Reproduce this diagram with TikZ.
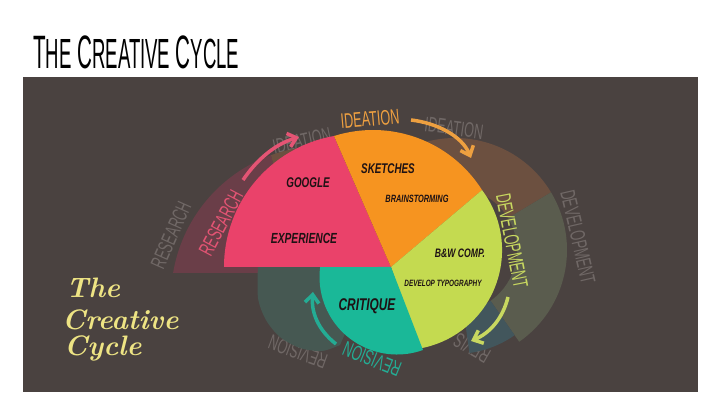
\documentclass[tikz,border=0pt]{standalone}
\usepackage{fontspec}
\usepackage{xcolor}
\usepackage{tikz}
\usetikzlibrary{arrows.meta, calc}
\newfontfamily\headfont[FakeStretch=0.44]{Liberation Sans}
\newfontfamily\ringfont[FakeStretch=0.6]{Liberation Sans}
\newfontfamily\brushfont[FakeStretch=0.7]{Liberation Sans}
\newcommand{\lowcap}[1]{{\fontsize{36}{36}\selectfont #1}}
\definecolor{panelbg}{RGB}{74, 66, 64}
\definecolor{pinkseg}{RGB}{234, 66, 106}
\definecolor{orangeseg}{RGB}{246, 148, 32}
\definecolor{limeseg}{RGB}{196, 218, 80}
\definecolor{tealseg}{RGB}{26, 184, 152}
\definecolor{ghostmaroon}{RGB}{106, 62, 72}
\definecolor{ghostbrown}{RGB}{108, 80, 64}
\definecolor{ghostolive}{RGB}{90, 92, 78}
\definecolor{ghostslate}{RGB}{70, 88, 82}
\definecolor{ghostblue}{RGB}{66, 86, 92}
\definecolor{ghosttext}{RGB}{112, 104, 102}
\definecolor{researchtext}{RGB}{228, 84, 116}
\definecolor{ideationtext}{RGB}{238, 160, 64}
\definecolor{developtext}{RGB}{200, 216, 96}
\definecolor{revisiontext}{RGB}{36, 172, 148}
\definecolor{inkdark}{RGB}{30, 18, 20}
\definecolor{cursivetext}{RGB}{238, 228, 132}

\begin{document}
\begin{tikzpicture}[
    x=0.03cm, y=-0.03cm,
    ringlabel/.style={font=\ringfont\fontsize{18}{18}\selectfont, inner sep=0pt},
    ghostlabel/.style={ringlabel, text=ghosttext},
    itemlabel/.style={font=\brushfont\bfseries\itshape\fontsize{#1}{#1}\selectfont, text=inkdark, inner sep=0pt},
    cursive/.style={font=\bfseries\itshape\fontsize{24}{24}\selectfont, text=cursivetext, inner sep=0pt, anchor=base west},
    cyclearrow/.style={line width=3pt, -{Straight Barb[length=7pt, width=12pt]}}
]
    \useasboundingbox (0,0) rectangle (720,405);
    \fill[white] (0,0) rectangle (720,405);
    \fill[panelbg] (23,77) rectangle (698,392);

    % Title
    \node[font=\headfont\fontsize{40}{40}\selectfont, anchor=base west, inner sep=0pt] (title) at (33,69)
        {T\lowcap{HE} C\lowcap{REATIVE} C\lowcap{YCLE}};

    % Ghost labels
    \node[ghostlabel, rotate=66] (gresearch) at (171,235) {RESEARCH};
    \node[ghostlabel, rotate=12] (gideaL) at (302,141) {IDEATION};
    \node[ghostlabel, rotate=-8] (gideaR) at (454,128) {IDEATION};
    \node[ghostlabel, rotate=-77] (gdevel) at (578,237) {DEVELOPMENT};
    \node[ghostlabel, rotate=160] (grevL) at (298,352) {REVISION};
    \node[ghostlabel, rotate=150] (grevR) at (472,348) {REVIS};

    % Ghost wheel, left
    \coordinate (lghost) at (323,298);
    \coordinate (lhub) at (300,273);
    \fill[ghostmaroon] (lhub) -- ($(lghost)+(189.5:152)$) arc[start angle=189.5, end angle=250, radius=152] -- cycle;
    \fill[ghostbrown] (lhub) -- ($(lghost)+(250:152)$) arc[start angle=250, end angle=272, radius=152] -- cycle;
    \fill[ghostslate] plot[smooth] coordinates {(258,265) (258,298) (266,320) (280,337) (300,348) (322,351) (340,345)}
        -- (360,300) -- (360,265) -- cycle;

    % Ghost wheel, right
    \coordinate (ghub) at (455,250);
    \fill[ghostbrown] ($(ghub)+(255:112)$) arc[start angle=255, end angle=329, radius=112]
        -- ($(ghub)+(329:62)$) arc[start angle=329, end angle=255, radius=62] -- cycle;
    \fill[ghostolive] ($(ghub)+(329:112)$) arc[start angle=329, end angle=415, radius=112]
        -- ($(ghub)+(415:62)$) arc[start angle=415, end angle=329, radius=62] -- cycle;
    \fill[ghostblue] ($(ghub)+(55:104)$) arc[start angle=55, end angle=82, radius=104]
        -- ($(ghub)+(82:62)$) arc[start angle=82, end angle=55, radius=62] -- cycle;

    % Wheel
    \coordinate (hub) at (391,267);
    \coordinate (oc) at (373,259);
    \coordinate (tc) at (397,277);
    \coordinate (oend) at ($(oc)+(327.7:129)$);
    \fill[pinkseg] (hub) -- (224,267) arc[start angle=180, end angle=260, radius=133] -- cycle;
    \fill[orangeseg] (hub) -- ($(oc)+(252.4:129)$) arc[start angle=252.4, end angle=327.7, radius=129] -- cycle;
    \fill[limeseg] (hub) -- (oend) arc[start angle=323.1, end angle=440, radius=100] -- cycle;
    \fill[tealseg] (hub) -- ($(tc)+(70.4:77.5)$) arc[start angle=70.4, end angle=187.4, radius=77.5] -- cycle;

    % Stage labels
    \node[ringlabel, text=researchtext, rotate=62] (research) at (221,223) {RESEARCH};
    \node[ringlabel, text=ideationtext, rotate=5] (ideation) at (370,119) {IDEATION};
    \node[ringlabel, text=developtext, rotate=-79] (development) at (512,241) {DEVELOPMENT};
    \node[ringlabel, text=revisiontext, rotate=158] (revision) at (372,359) {REVISION};

    % Items
    \node[itemlabel=12] (google) at (308,183) {GOOGLE};
    \node[itemlabel=12.5] (experience) at (304,238) {EXPERIENCE};
    \node[itemlabel=12] (sketches) at (388,169) {SKETCHES};
    \node[itemlabel=9] (brainstorm) at (417,199) {BRAINSTORMING};
    \node[itemlabel=10.5] (bwcomp) at (460,253) {B\&W COMP.};
    \node[itemlabel=7.8] (typo) at (443,283) {DEVELOP TYPOGRAPHY};
    \node[itemlabel=14.5] (critique) at (367,306) {CRITIQUE};

    % Cursive caption
    \node[cursive] (capThe) at (66,298) {The};
    \node[cursive] (capCreative) at (62,330) {Creative};
    \node[cursive] (capCycle) at (64,356) {Cycle};

    % Arrows
    \coordinate (resfrom) at (243,180);
    \coordinate (resto) at (299,137);
    \coordinate (ideafrom) at (411,120);
    \coordinate (ideato) at (471,158);
    \coordinate (devfrom) at (508,297);
    \coordinate (devto) at (471,341);
    \coordinate (revfrom) at (336,344);
    \coordinate (revto) at (313,292);
    \draw[cyclearrow, researchtext] (resfrom) .. controls (258,158) and (276,144) .. (resto);
    \draw[cyclearrow, ideationtext] (ideafrom) .. controls (437,123) and (462,136) .. (ideato);
    \draw[cyclearrow, developtext] (devfrom) .. controls (503,318) and (490,333) .. (devto);
    \draw[cyclearrow, revisiontext] (revfrom) .. controls (318,330) and (311,312) .. (revto);
\end{tikzpicture}
\end{document}
